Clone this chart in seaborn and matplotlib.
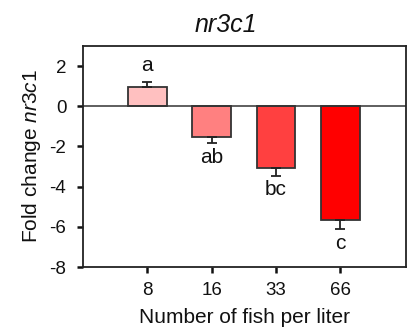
import matplotlib
matplotlib.use("Agg")
import matplotlib.pyplot as plt
import seaborn as sns
import pandas as pd
import numpy as np

# data
groups = ["8", "16", "33", "66"]
fold_change = [0.95, -1.55, -3.09, -5.64]
sem = [0.25, 0.30, 0.39, 0.49]
letters = ["a", "ab", "bc", "c"]
bar_colors = ["#FFC0C0", "#FF8080", "#FF4040", "#FF0000"]

sns.set_theme(style="white")
plt.rcParams["font.family"] = ["Liberation Sans", "DejaVu Sans"]
plt.rcParams["axes.unicode_minus"] = False
plt.rcParams["mathtext.fontset"] = "custom"
plt.rcParams["mathtext.rm"] = "Liberation Sans"
plt.rcParams["mathtext.it"] = "Liberation Sans:italic"

df = pd.DataFrame({"group": groups, "value": fold_change})

fig = plt.figure(figsize=(4.08, 3.31), dpi=100)
ax = fig.add_axes([83/408, 1-267/331, 323/408, 221/331])

sns.barplot(data=df, x="group", y="value", hue="group", palette=bar_colors,
            order=groups, hue_order=groups, width=0.6, edgecolor="#333333",
            linewidth=1.3, legend=False, errorbar=None, ax=ax, saturation=1)

xs = np.arange(len(groups))
vals = np.array(fold_change)
errs = np.array(sem)
lower = np.where(vals < 0, errs, 0)
upper = np.where(vals >= 0, errs, 0)
ax.errorbar(xs, vals, yerr=[lower, upper], fmt="none", ecolor="#222222",
            elinewidth=1.3, capsize=3.5, capthick=1.3)

for x, v, e, lab in zip(xs, vals, errs, letters):
    if v >= 0:
        ax.annotate(lab, (x, v + e), xytext=(0, 8), textcoords="offset points",
                    ha="center", va="baseline", fontsize=15, color="#111111")
    else:
        ax.annotate(lab, (x, v - e), xytext=(0, -3), textcoords="offset points",
                    ha="center", va="top", fontsize=15, color="#111111")

ax.axhline(0, color="#333333", linewidth=1.1, zorder=1)

ax.set_xlim(-1.0, 4.02)
ax.set_ylim(-8, 3)
ax.set_yticks([2, 0, -2, -4, -6, -8])

for s in ax.spines.values():
    s.set_color("#222222")
    s.set_linewidth(1.3)

ax.tick_params(axis="both", which="both", direction="out", length=4, width=1.8,
               color="#111111", labelsize=13.5, labelcolor="#111111",
               left=True, bottom=True, right=False, top=False)
ax.tick_params(axis="y", pad=8)
ax.tick_params(axis="x", pad=7)

ax.set_xlabel("Number of fish per liter", fontsize=15, color="#111111", labelpad=6)
ax.set_ylabel(r"Fold change $\it{nr3c1}$", fontsize=15, color="#111111", labelpad=5)

fig.text(225.5/408, 1-25/331, "nr3c1", fontsize=18, style="italic",
         ha="center", va="center", color="#111111")

fig.savefig("out.png", dpi=100)
